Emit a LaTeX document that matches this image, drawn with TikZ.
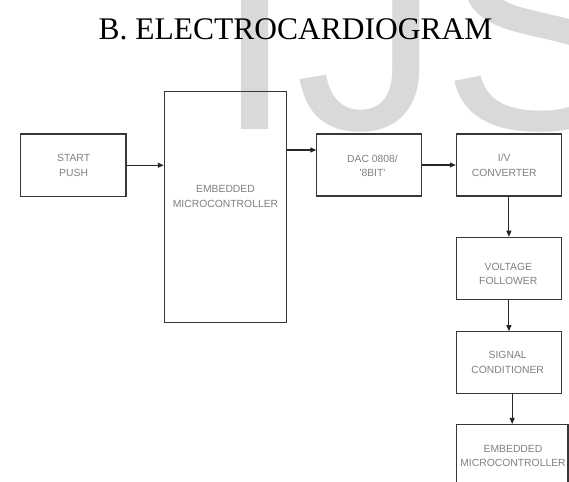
\documentclass[tikz,border=0pt]{standalone}
\usepackage{fontspec}
\setmainfont{Liberation Serif}
\newfontfamily\lblfont{Liberation Sans}
\newfontfamily\wmfont{Liberation Sans}
\usetikzlibrary{arrows.meta}
\tikzset{
  box/.style={draw=black!78, line width=1.1bp, inner sep=0pt},
  lbl/.style={font=\lblfont\fontsize{10.4}{14.5}\selectfont, text=black!50, align=center, inner sep=0pt},
  arr/.style={draw=black!85, line width=1.1bp, -{Triangle[length=6bp,width=5bp]}},
}
\begin{document}
\begin{tikzpicture}[x=1bp,y=-1bp]
\useasboundingbox (0,0) rectangle (569,482);
\clip (0,0) rectangle (569,482);
\fill[white] (0,0) rectangle (569,482);
% watermark
\node[anchor=base west, inner sep=0pt, text=black!15, font=\wmfont\fontsize{293}{293}\selectfont] (wm) at (214.4,130) {IJS};
% title
\node[anchor=base, inner sep=0pt, font=\fontsize{31.6}{36}\selectfont] (title) at (295.5,40) {B. ELECTROCARDIOGRAM};
% boxes
\node[box, minimum width=105.3bp, minimum height=62.5bp] (start) at (73.35,165.25) {};
\node[box, minimum width=122.4bp, minimum height=231bp] (mc) at (225.5,207.2) {};
\node[box, minimum width=104.6bp, minimum height=62bp] (dac) at (369.2,165) {};
\node[box, minimum width=105.2bp, minimum height=62bp] (iv) at (508.9,165) {};
\node[box, minimum width=105.2bp, minimum height=62bp] (vf) at (508.9,268.3) {};
\node[box, minimum width=105.2bp, minimum height=61.6bp] (sc) at (508.9,362.5) {};
\node[box, minimum width=111.7bp, minimum height=75.5bp] (em) at (512.15,462.25) {};
% labels
\node[lbl] (lstart) at (73.6,165.5) {START\\PUSH};
\node[lbl] (lmc) at (225.5,196.5) {EMBEDDED\\MICROCONTROLLER};
\node[lbl] (ldac) at (372.5,165.7) {DAC 0808/\\'8BIT'};
\node[lbl] (liv) at (504.2,165.4) {I/V\\CONVERTER};
\node[lbl] (lvf) at (508.3,273.9) {VOLTAGE\\FOLLOWER};
\node[lbl] (lsc) at (507.7,362.3) {SIGNAL\\CONDITIONER};
\node[lbl] (lem) at (513,455.9) {EMBEDDED\\MICROCONTROLLER};
% connectors
\coordinate (md) at (286.7,150);
\draw[arr] (start.east) -- (start.east -| mc.west);
\draw[arr] (md) -- (md -| dac.west);
\draw[arr] (dac.east) -- (iv.west);
\draw[arr] (iv.south) -- (vf.north);
\draw[arr] (vf.south) -- (sc.north);
\draw[arr] (sc.south -| em.north) -- (em.north);
\end{tikzpicture}
\end{document}
